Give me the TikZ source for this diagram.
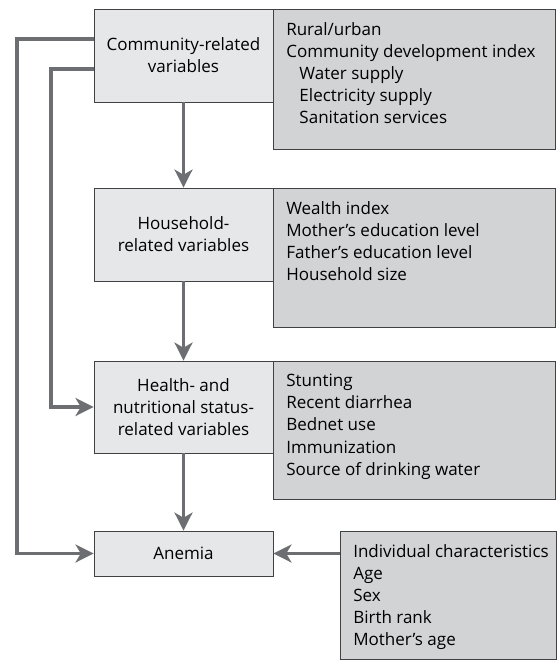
\documentclass[tikz,border=0pt]{standalone}
\usepackage{fontspec}
\setmainfont{Open Sans}
\usetikzlibrary{arrows.meta, positioning}
\definecolor{linegray}{HTML}{6D6E71}
\definecolor{boxlight}{HTML}{E6E7E8}
\definecolor{boxdark}{HTML}{D1D3D4}
\definecolor{edgegray}{HTML}{414042}
\tikzset{
  level/.style={draw=edgegray, fill=boxlight, line width=0.6pt, minimum width=4.475cm, align=center, inner sep=0pt},
  info/.style={draw=edgegray, fill=boxdark, line width=0.6pt, anchor=north west, inner sep=0pt},
  items/.style={anchor=north west, align=left, inner sep=0pt},
  flow/.style={draw=linegray, line width=2.8pt, -{Stealth[length=0.45cm, width=0.45cm, inset=0.13cm]}}
}
\begin{document}
\begin{tikzpicture}[x=0.025cm, y=-0.025cm, every node/.append style={font=\fontsize{12.1}{15.7}\selectfont}]
  \useasboundingbox (0,0) rectangle (559,664);
  % Grey lists
  \node[info, minimum width=7.05cm, minimum height=3.5cm] (commInfo) at (273,9) {};
  \node[info, minimum width=7.05cm, minimum height=3.475cm] (houseInfo) at (273,188) {};
  \node[info, minimum width=7.05cm, minimum height=3.45cm] (healthInfo) at (273,361) {};
  \node[info, minimum width=5.4cm, minimum height=3.2cm] (indiv) at (340,531) {};
  \node[items] (commList) at ([shift={(13,13)}]commInfo.north west)
    {Rural/urban\\Community development index\\\hspace*{0.33cm}Water supply\\\hspace*{0.33cm}Electricity supply\\\hspace*{0.33cm}Sanitation services};
  \node[items] (houseList) at ([shift={(13,13)}]houseInfo.north west)
    {Wealth index\\Mother's education level\\Father's education level\\Household size};
  \node[items] (healthList) at ([shift={(13,13)}]healthInfo.north west)
    {Stunting\\Recent diarrhea\\Bednet use\\Immunization\\Source of drinking water};
  \node[items] (indivList) at ([shift={(13,13)}]indiv.north west)
    {Individual characteristics\\Age\\Sex\\Birth rank\\Mother's age};
  % Levels
  \node[level, minimum height=2.325cm] (comm) at (183.5,55.5) {Community-related\\variables};
  \node[level, minimum height=2.325cm] (house) at (183.5,234.5) {Household-\\related variables};
  \node[level, minimum height=2.3cm] (health) at (183.5,407) {Health- and\\nutritional status-\\related variables};
  \node[level, minimum height=1.125cm] (anemia) at (183.5,553.5) {Anemia};
  % Arrows
  \draw[flow] (comm) -- (house);
  \draw[flow] (house) -- (health);
  \draw[flow] (health) -- (anemia);
  \draw[flow] (indiv.west |- anemia.east) -- (anemia);
  \draw[flow] (comm.west |- 0,39) -- (17,39) |- (anemia);
  \draw[flow] (comm.west |- 0,69) -- (51,69) |- (health);
\end{tikzpicture}
\end{document}
